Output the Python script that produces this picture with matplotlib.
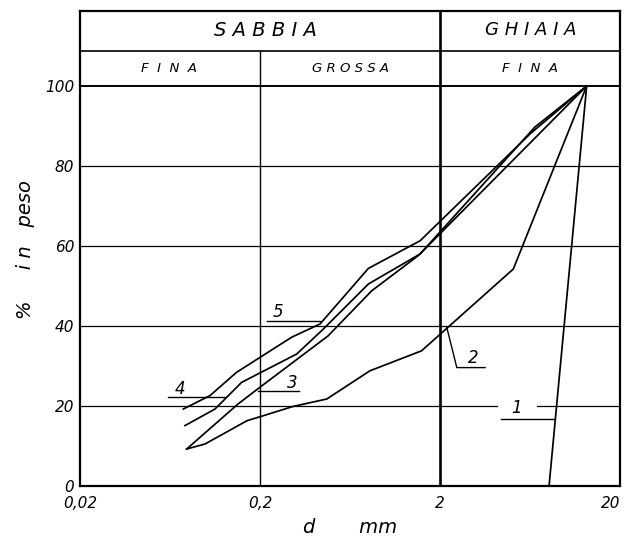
import numpy as np
import matplotlib
matplotlib.use("Agg")
import matplotlib.pyplot as plt

# ---------------- data ----------------
curve1_d = [8.07, 13.06]
curve1_p = [0.0, 100.0]

curve2_d = [0.0783, 0.099, 0.169, 0.306, 0.470, 0.816, 1.58, 5.11, 13.06]
curve2_p = [9.25, 10.5, 16.3, 19.9, 21.75, 28.8, 33.8, 54.25, 100.0]

curve3_d = [0.0783, 0.151, 0.200, 0.477, 0.835, 1.515, 13.06]
curve3_p = [9.25, 20.5, 24.7, 37.5, 48.8, 57.6, 100.0]

curve4_d = [0.0766, 0.1125, 0.158, 0.320, 0.450, 0.80, 1.55, 6.74, 13.06]
curve4_p = [15.1, 19.25, 25.9, 33.0, 39.25, 50.5, 58.0, 89.75, 100.0]

curve5_d = [0.075, 0.1055, 0.148, 0.300, 0.431, 0.80, 1.55, 6.32, 13.06]
curve5_p = [19.25, 22.6, 28.4, 37.2, 40.5, 54.4, 61.3, 88.0, 100.0]

x_ticks = [0.02, 0.2, 2, 20]
x_ticklabels = ["0,02", "0,2", "2", "20"]
y_ticks = [0, 20, 40, 60, 80, 100]
y_ticklabels = ["0", "20", "40", "60", "80", "100"]

labels = ["1", "2", "3", "4", "5"]

plt.rcParams['font.family'] = ['DejaVu Sans']

fig = plt.figure(figsize=(6.28, 5.47), dpi=100)
ax = fig.add_axes([80 / 628, 1 - 486 / 547, 540 / 628, 475 / 547])
ax.set_xscale('log')
ax.set_xlim(0.02, 20)
top = 118.75
ax.set_ylim(0, top)

for s in ax.spines.values():
    s.set_linewidth(1.6)
    s.set_color('black')

# grid lines
lw_grid = 0.9
for yv in [40, 60, 80]:
    ax.plot([0.02, 20], [yv, yv], color='black', lw=lw_grid)
# 20 % line with gap around label 1
ax.plot([0.02, 4.13], [20, 20], color='black', lw=lw_grid)
ax.plot([6.89, 20], [20, 20], color='black', lw=lw_grid)
ax.plot([0.02, 20], [100, 100], color='black', lw=1.4)
ax.plot([0.02, 20], [108.8, 108.8], color='black', lw=1.2)
ax.plot([0.2, 0.2], [0, 108.8], color='black', lw=1.0)
ax.plot([2, 2], [0, top], color='black', lw=1.9)

# curves
for d, p in [(curve1_d, curve1_p), (curve2_d, curve2_p), (curve3_d, curve3_p),
             (curve4_d, curve4_p), (curve5_d, curve5_p)]:
    ax.plot(d, p, color='black', lw=1.25, solid_joinstyle='miter')

# leader lines and curve labels
lfs = 12
ax.plot([4.35, 8.6], [16.8, 16.8], color='black', lw=1.0)
ax.text(5.34, 19.4, labels[0], fontsize=lfs, style='italic', ha='center', va='center')
ax.plot([2.18, 2.48, 3.56], [39.7, 29.6, 29.6], color='black', lw=1.0)
ax.text(3.06, 31.9, labels[1], fontsize=lfs, style='italic', ha='center', va='center')
ax.plot([0.196, 0.329], [23.8, 23.8], color='black', lw=1.0)
ax.text(0.304, 25.8, labels[2], fontsize=lfs, style='italic', ha='center', va='center')
ax.plot([0.0619, 0.128], [22.2, 22.2], color='black', lw=1.0)
ax.text(0.0719, 24.3, labels[3], fontsize=lfs, style='italic', ha='center', va='center')
ax.plot([0.218, 0.431], [41.2, 41.2], color='black', lw=1.0)
ax.text(0.253, 43.4, labels[4], fontsize=lfs, style='italic', ha='center', va='center')

# header texts
ax.text(0.214, 114.0, "S A B B I A", fontsize=14, style='italic',
        ha='center', va='center')
ax.text(6.4, 114.0, "G H I A I A", fontsize=13, style='italic',
        ha='center', va='center')
ax.text(0.0625, 104.5, "F  I  N  A", fontsize=9.5, style='italic',
        ha='center', va='center')
ax.text(0.64, 104.5, "G R O S S A", fontsize=9.5, style='italic',
        ha='center', va='center')
ax.text(6.3, 104.5, "F  I  N  A", fontsize=9.5, style='italic',
        ha='center', va='center')

# ticks
ax.set_xticks(x_ticks)
ax.set_xticklabels(x_ticklabels, fontsize=11, style='italic')
ax.set_yticks(y_ticks)
ax.set_yticklabels(y_ticklabels, fontsize=11, style='italic')
ax.minorticks_off()
ax.tick_params(axis='x', length=0, pad=7)
ax.tick_params(axis='y', length=0, pad=4)
labs = ax.get_xticklabels()
labs[-1].set_horizontalalignment('right')
labs[-1].set_x(20)

ax.set_xlabel("d       mm", fontsize=14, style='italic')
ax.xaxis.set_label_coords(0.5, -0.068)
ax.set_ylabel("%     i n   peso", fontsize=14, style='italic')
ax.yaxis.set_label_coords(-0.083, 0.497)

fig.savefig("out.png", dpi=100)
